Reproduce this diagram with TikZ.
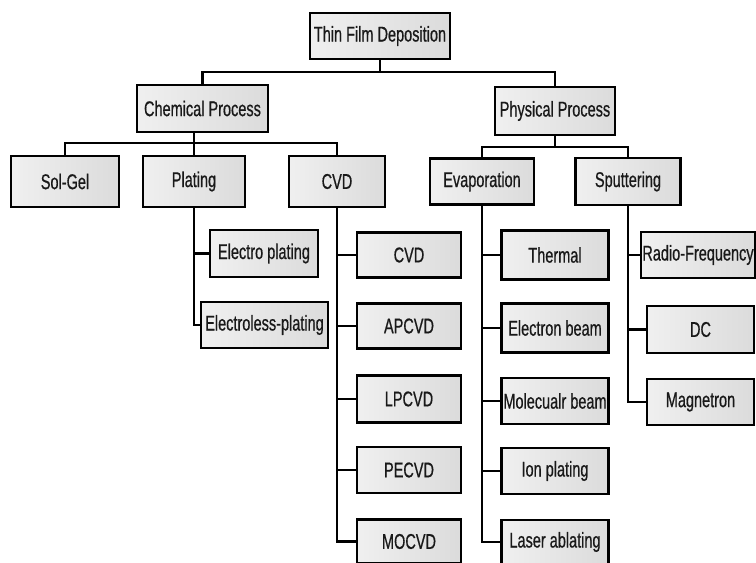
\documentclass[tikz,border=0pt]{standalone}
\usepackage{fontspec}
\setmainfont[FakeStretch=0.68, FakeBold=0.6]{Liberation Sans}
\usetikzlibrary{positioning}

\begin{document}
\begin{tikzpicture}[
    x=0.75pt, y=-0.75pt,
    box/.style={rectangle, draw, line width=2.1pt, inner sep=0pt,
                left color=gray!12, right color=gray!28,
                font=\fontsize{16}{19}\selectfont, text=black!90},
    sz/.style 2 args={minimum width=#1*0.75pt, minimum height=#2*0.75pt},
    conn/.style={line width=2.1pt}
]
  \useasboundingbox (0,0) rectangle (756,563);

  % root
  \node[box, sz={140}{46}] (tfd) at (380,36) {Thin Film Deposition};

  % second level
  \node[box, sz={131}{47}] (chem) at (202.5,108.5) {Chemical Process};
  \node[box, sz={120}{48}] (phys) at (555,111) {Physical Process};

  % Chemical
  \node[box, sz={108}{51}] (solgel) at (65,181.5) {Sol-Gel};
  \node[box, sz={102}{51}] (plat) at (194,181.5) {Plating};
  \node[box, sz={96}{51}] (cvd) at (337,181.5) {CVD};

  % Physical
  \node[box, sz={104}{46}] (evap) at (482,181.5) {Evaporation};
  \node[box, sz={105}{47}] (sput) at (628,181.5) {Sputtering};

  % Plating
  \node[box, sz={108}{47}] (ep) at (264,253.5) {Electro plating};
  \node[box, sz={127}{46}] (elp) at (264.5,325) {Electroless-plating};

  % CVD
  \node[box, sz={104}{45}] (cv1) at (409,255) {CVD};
  \node[box, sz={104}{45}] (cv2) at (409,326) {APCVD};
  \node[box, sz={104}{47}] (cv3) at (409,399) {LPCVD};
  \node[box, sz={104}{46}] (cv4) at (409,470) {PECVD};
  \node[box, sz={104}{44}] (cv5) at (409,541.5) {MOCVD};

  % Evaporation
  \node[box, sz={107}{49}] (ev1) at (555,255) {Thermal};
  \node[box, sz={107}{49}] (ev2) at (555,328) {Electron beam};
  \node[box, sz={107}{46}] (ev3) at (555,401) {Molecualr beam};
  \node[box, sz={107}{46}] (ev4) at (555,471) {Ion plating};
  \node[box, sz={107}{44}] (ev5) at (555,542) {Laser ablating};

  % Sputtering
  \node[box, sz={114}{46}] (sp1) at (698,255) {Radio-Frequency};
  \node[box, sz={107}{47}] (sp2) at (700.5,329.5) {DC};
  \node[box, sz={107}{46}] (sp3) at (700.5,402) {Magnetron};

  % Lines
  \coordinate (bus0) at (0,72);
  \coordinate (bus1) at (0,143);
  \coordinate (bus2) at (0,147);
  \draw[conn] (tfd.south) -- (tfd.south |- bus0);
  \draw[conn] (chem.north) |- (bus0 -| phys) -- (phys.north);

  \draw[conn] (chem.south -| plat) -- (plat.north);
  \draw[conn] (solgel.north) |- (bus1 -| cvd) -- (cvd.north);

  \draw[conn] (phys.south) -- (phys.south |- bus2);
  \draw[conn] (evap.north) |- (bus2 -| sput) -- (sput.north);

  \draw[conn] (plat.south) |- (ep.west);
  \draw[conn] (plat.south) |- (elp.west);

  \foreach \n in {cv1,cv2,cv3,cv4,cv5}
    \draw[conn] (cvd.south) |- (\n.west);
  \foreach \n in {ev1,ev2,ev3,ev4,ev5}
    \draw[conn] (evap.south) |- (\n.west);
  \foreach \n in {sp1,sp2,sp3}
    \draw[conn] (sput.south) |- (\n.west);
\end{tikzpicture}
\end{document}
